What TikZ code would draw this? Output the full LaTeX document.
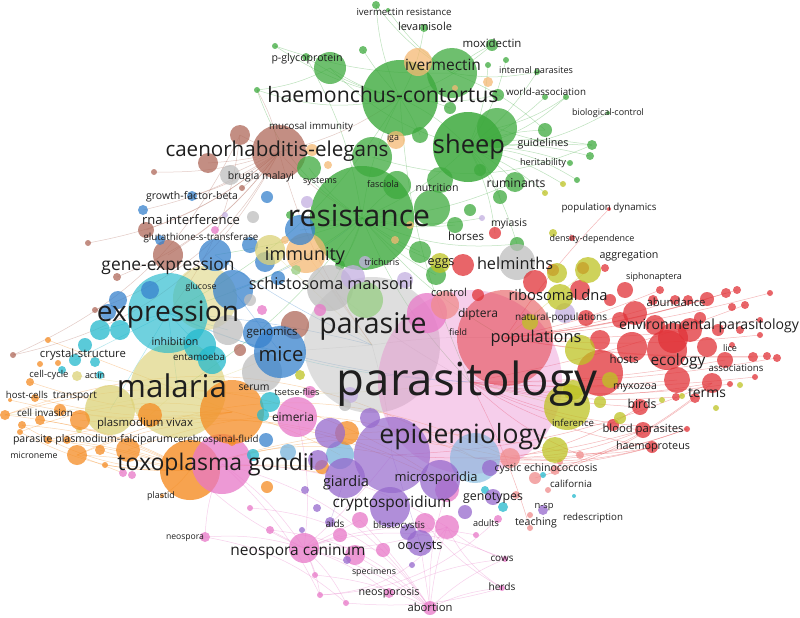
\documentclass[tikz,border=0pt]{standalone}
\usepackage{fontspec}
\setmainfont{Open Sans}
\usepackage{graphicx}
\definecolor{vg}{RGB}{62,170,62}
\definecolor{vlg}{RGB}{150,205,130}
\definecolor{vr}{RGB}{225,50,55}
\definecolor{vsal}{RGB}{240,140,140}
\definecolor{vb}{RGB}{55,130,205}
\definecolor{vlb}{RGB}{120,180,220}
\definecolor{vy}{RGB}{190,195,35}
\definecolor{vkh}{RGB}{220,210,120}
\definecolor{vp}{RGB}{150,105,205}
\definecolor{vlav}{RGB}{195,175,225}
\definecolor{vo}{RGB}{245,140,35}
\definecolor{vpe}{RGB}{245,185,115}
\definecolor{vbr}{RGB}{175,105,90}
\definecolor{vpk}{RGB}{232,120,200}
\definecolor{vgr}{RGB}{190,190,190}
\definecolor{vc}{RGB}{35,185,205}
\definecolor{txt}{RGB}{30,30,30}
\def\bigbubs{pas/372/345/68/vgr/0.5,pty/470/382/92/vpk/0.36,pop/505/338/48/vr/0.5,mal/178/390/48/vkh/0.65,mal2/205/298/32/vkh/0.55,exp/168/313/40/vc/0.65,res/362/218/52/vg/0.8,hae/400/98/38/vg/0.8,shp/468/147/35/vg/0.85,epi/392/455/38/vp/0.7,lb1/475/458/25/vlb/0.6,tox/190/470/30/vo/0.8,toxp/222/464/30/vpk/0.75,ora/232/412/32/vo/0.75,cae/279/152/27/vbr/0.75}
\def\bubs{g1/452/73/25/vg,g2/497/128/20/vg,g3/330/68/16/vg,g4/372/157/20/vg,g5/432/208/18/vg,g6/309/168/12/vg,g7/420/252/11/vg,g8/440/180/13/vg,g9/397/185/14/vg,g10/492/45/6/vg,g11/424/28/4/vg,g12/376/5/4/vg,g13/275/46/3/vg,g14/363/50/4/vg,g15/306/57/4/vg,g16/257/90/3/vg,g17/488/65/3/vg,g18/506/60/3/vg,g19/537/72/3/vg,g20/545/97/3/vg,g21/566/97/3/vg,g22/608/113/2/vg,g23/545/130/7/vg,g24/592/145/5/vg,g25/590/156/4/vg,g26/570/163/3/vg,g27/577/180/3/vg,g28/515/182/10/vg,g29/500/197/7/vg,g30/436/275/10/vg,g31/517/244/7/vg,g32/470/210/6/vg,g33/480/170/6/vg,g34/455/225/8/vg,g35/388/10/2/vg,g36/450/108/6/vg,g37/420/135/8/vg,g38/498/95/6/vg,g43/290/215/4/vg,g44/340/265/5/vg,
pe1/418/62/14/vpe,pe2/396/140/9/vpe,pe3/312/150/6/vpe,pe4/328/165/4/vpe,pe5/306/253/20/vpe,pe6/455/88/3/vpe,pe7/488/82/5/vpe,pe8/410/225/4/vpe,
br1/240/135/10/vbr,br2/208/163/10/vbr,br3/154/172/3/vbr,br4/242/188/3/vbr,br5/168/255/15/vbr,br6/146/230/8/vbr,br7/88/243/3/vbr,br8/95/310/3/vbr,br9/13/355/3/vbr,br10/117/277/4/vbr,br12/295/325/14/vbr,
gr1/230/175/10/vgr,gr2/330/288/23/vgr,gr3/517/262/18/vgr,gr4/262/372/20/vgr,gr5/228/330/15/vgr,gr6/253/217/6/vgr,
b1/300/230/15/vb,b2/192/196/5/vb,b3/215/255/16/vb,b4/233/290/20/vb,b5/265/262/10/vb,b6/250/245/8/vb,b7/280/352/26/vb,b8/258/333/15/vb,b9/150/290/9/vb,b10/118/300/9/vb,b11/108/312/8/vb,b12/143/210/5/vb,b13/160/240/5/vb,b14/267/197/6/vb,b20/266/440/7/vb,
c1/100/330/10/vc,c2/85/345/7/vc,c3/75/360/6/vc,c4/95/362/5/vc,c5/212/360/14/vc,c6/200/345/16/vc,c7/270/402/10/vc,c8/263/415/6/vc,c9/340/455/14/vlb,c10/62/370/4/vc,c11/100/375/4/vc,c12/120/330/10/vc,c15/485/490/4/vc,c16/503/507/5/vc,c17/574/496/2/vc,c18/543/475/3/vc,
k1/110/410/25/vkh,k2/270/250/15/vkh,k3/77/376/5/vkh,k7/79/430/3/vkh,
o1/150/415/12/vo,o2/80/420/10/vo,o3/60/410/6/vo,o4/40/420/5/vo,o5/22/425/4/vo,o6/5/415/5/vo,o7/20/432/3/vo,o8/48/440/4/vo,o9/67/440/4/vo,o10/100/450/5/vo,o11/128/450/12/vo,o12/77/455/10/vo,o13/322/467/7/vo,o14/267/487/6/vo,o15/347/433/12/vo,o16/30/382/4/vo,o17/48/340/3/vo,o18/35/398/4/vo,o21/58/363/3/vo,o22/40/364/3/vo,o23/10/400/2/vo,o24/105/465/3/vo,o25/162/496/2/vo,o28/232/442/4/vo,
p1/304/548/15/vpk,p2/297/417/20/vpk,p3/427/313/20/vpk,p4/340/535/7/vpk,p5/355/555/10/vpk,p6/383/550/7/vpk,p7/447/527/12/vpk,p8/425/523/10/vpk,p9/360/520/8/vpk,p10/447/490/12/vpk,p11/430/608/7/vpk,p12/389/593/5/vpk,p13/320/595/3/vpk,p14/346/603/3/vpk,p15/270/530/4/vpk,p16/205/537/5/vpk,p17/123/473/4/vpk,p18/132/475/4/vpk,p19/315/575/3/vpk,p20/498/519/4/vpk,p21/476/535/3/vpk,p22/505/559/3/vpk,p23/502/588/3/vpk,p24/250/508/3/vpk,
pu1/440/480/20/vp,pu2/345/478/20/vp,pu3/390/507/20/vp,pu4/318/460/10/vp,pu5/490/468/8/vp,pu6/465/512/7/vp,pu7/493/497/8/vp,pu8/543/510/5/vp,pu9/420/543/13/vp,pu10/408/532/8/vp,pu11/330/522/5/vp,pu12/317/508/4/vp,pu13/305/490/4/vp,pu14/412/565/3/vp,pu15/347/560/4/vp,pu16/330/433/15/vp,pu17/370/418/10/vp,pu18/302/530/3/vp,
la1/482/218/3/vlav,la2/307/202/6/vlav,la3/565/313/10/vlav,la5/353/277/12/vlav,lg1/365/300/18/vlg,
r1/463/265/11/vr,r2/495/233/6/vr,r3/535/282/12/vr,r4/583/268/6/vr,r5/605/268/4/vr,r6/553/270/6/vr,r7/572/238/3/vr,r8/609/209/2/vr,r9/625/290/8/vr,r10/635/313/12/vr,r11/660/290/4/vr,r12/653/300/5/vr,r13/675/300/5/vr,r14/688/300/5/vr,r15/707/299/7/vr,r16/726/293/5/vr,r17/737/290/4/vr,r18/732/307/4/vr,r19/745/305/4/vr,r20/770/293/3/vr,r21/732/345/3/vr,r22/725/360/8/vr,r23/707/347/10/vr,r24/690/330/12/vr,r25/667/350/20/vr,r26/632/347/15/vr,r27/677/380/13/vr,r28/600/373/23/vr,r29/673/338/15/vr,r30/753/357/5/vr,r31/767/356/4/vr,r32/777/358/4/vr,r33/755/377/3/vr,r34/730/384/3/vr,r35/640/407/8/vr,r36/643/430/8/vr,r37/652/447/6/vr,r38/687/429/3/vr,r39/613/425/6/vr,r40/712/383/10/vr,r41/695/398/5/vr,r42/676/397/4/vr,r44/620/320/8/vr,r45/655/325/10/vr,r46/700/318/6/vr,r47/718/330/6/vr,r48/740/330/4/vr,r49/760/320/3/vr,r50/580/290/10/vr,r51/586/318/8/vr,r52/600/340/10/vr,r53/478/295/6/vr,r55/610/300/6/vr,r56/760/335/3/vr,
s1/510/458/10/vsal,s2/535/478/6/vsal,s3/555/470/5/vsal,s4/516/495/4/vsal,s5/548/490/3/vsal,s6/530/515/3/vsal,s7/530/528/3/vsal,s8/445/305/14/vsal,s13/580/455/4/vsal,s14/560/462/3/vsal,
y1/557/273/10/vy,y2/588/270/13/vy,y3/560/297/13/vy,y4/580/350/15/vy,y5/567/407/23/vy,y6/555/450/13/vy,y7/573/390/10/vy,y8/553/233/4/vy,y9/563/184/3/vy,y10/545/193/3/vy,y11/440/263/10/vy,y12/662/400/3/vy,y13/682/396/3/vy,y14/716/408/3/vy,y15/620/418/6/vy,y16/610/380/8/vy,y18/600/402/6/vy,y21/530/322/8/vy,y24/740/385/3/vy,
t2/250/300/6/vgr,t3/262/310/5/vpk,t4/240/350/6/vbr,t5/350/395/8/vlav,t6/310/392/6/vpk,t7/288/452/8/vlb,t8/253/455/6/vc,t9/345/405/6/vgr,t10/300/375/5/vy,t11/215/230/4/vpk,t12/225/215/3/vlav,t13/285/240/4/vpe,t14/320/310/6/vpk,t15/405/280/8/vlav,t16/395/240/4/vpe,t17/365/262/6/vlav,t18/278/278/7/vb,t19/296/270/5/vlg}
\def\edges{hae/g12/vg/10,hae/g11/vg/-10,hae/g3/vg/10,hae/g14/vg/5,hae/g10/vg/-10,hae/g16/vg/15,hae/g13/vg/10,hae/shp/vg/10,hae/res/vg/-10,shp/g19/vg/-10,shp/g20/vg/-10,shp/g21/vg/-15,shp/g22/vg/-15,shp/g23/vg/10,shp/g24/vg/10,shp/g26/vg/10,shp/g27/vg/15,shp/res/vg/10,shp/g28/vg/10,res/g28/vg/-10,g1/g12/vg/10,g1/g10/vg/10,res/g30/vg/-10,res/g31/vg/-15,res/g43/vg/10,g3/shp/vg/-15,g13/g1/vg/-10,g15/res/vg/10,hae/g38/vg/-10,res/g34/vg/-10,g4/g24/vg/-20,res/g16/vg/20,shp/r2/vg/10,shp/y9/vg/10,
shp/g17/vg/-10,shp/g18/vg/-10,shp/g25/vg/10,g1/g35/vg/10,hae/g15/vg/10,res/g6/vg/10,res/g9/vg/5,shp/g33/vg/5,res/g7/vg/-5,res/g44/vg/10,hae/g37/vg/5,g1/g19/vg/-10,g1/g23/vg/10,res/y11/vg/-10,shp/g31/vg/10,res/la1/vg/-10,g3/g16/vg/10,hae/g36/vg/10,res/b1/vg/5,res/gr2/vg/5,shp/g29/vg/15,shp/y10/vg/10,g2/g24/vg/-10,g2/g21/vg/-10,
cae/br3/vbr/10,cae/br7/vbr/15,cae/br8/vbr/20,cae/br9/vbr/25,cae/br2/vbr/5,cae/br1/vbr/5,cae/res/vbr/-10,cae/br5/vbr/10,cae/pas/vbr/-10,cae/br10/vbr/15,br1/exp/vbr/15,cae/hae/vbr/-10,cae/g16/vbr/-10,cae/b12/vbr/10,cae/br6/vbr/10,cae/br4/vbr/5,br1/br9/vbr/20,cae/gr1/vbr/0,cae/b2/vbr/10,
tox/o6/vo/-10,tox/o5/vo/-10,tox/o4/vo/-10,tox/o8/vo/-5,tox/o9/vo/-5,tox/o12/vo/-5,tox/o11/vo/-5,tox/o25/vo/10,tox/epi/vo/15,o6/lb1/vo/25,o12/s1/vo/25,o8/pu1/vo/20,tox/s1/vo/15,tox/y6/vo/15,ora/o2/vo/10,ora/o23/vo/10,o12/p17/vo/0,
o5/tox/vo/-15,o7/tox/vo/-15,o10/tox/vo/-5,o24/tox/vo/-5,o3/ora/vo/-10,o16/ora/vo/-10,o18/ora/vo/-10,o6/pu1/vo/25,o7/c9/vo/25,o12/epi/vo/22,o11/lb1/vo/22,tox/o13/vo/5,tox/pu2/vo/10,o17/mal/vo/0,
p1/p11/vpk/10,p1/p12/vpk/10,p1/p13/vpk/10,p1/p14/vpk/10,p1/p19/vpk/5,p1/p16/vpk/-10,p1/p15/vpk/0,p1/p4/vpk/0,p1/p7/vpk/-10,p1/toxp/vpk/-10,p11/p22/vpk/10,p11/p23/vpk/10,p11/p7/vpk/5,p11/p5/vpk/-5,p1/p22/vpk/20,p16/toxp/vpk/10,p22/p7/vpk/10,p23/p8/vpk/10,p1/p21/vpk/15,p13/p20/vpk/-20,toxp/p11/vpk/20,toxp/p7/vpk/15,p1/epi/vpk/-5,p24/p11/vpk/25,tox/p1/vpk/-10,p11/pu9/vpk/0,
p1/p9/vpk/0,p1/p6/vpk/5,p12/p22/vpk/10,p14/p23/vpk/-10,p11/p9/vpk/-5,p11/p10/vpk/10,p19/p11/vpk/10,p13/p7/vpk/-25,p15/p11/vpk/20,toxp/p13/vpk/10,p16/p14/vpk/15,p2/p1/vpk/10,p7/p23/vpk/-15,
pty/r37/vr/-10,pty/r36/vr/-10,pty/r38/vr/-10,pty/r40/vr/-10,pty/r32/vr/-5,pty/r19/vr/-5,pop/r20/vr/-5,pop/r30/vr/-5,s1/r37/vr/-10,s1/r36/vr/-10,s1/r38/vr/-10,pty/r35/vr/-5,pop/r8/vr/5,pop/r17/vr/-5,s3/r40/vr/-10,s2/r41/vr/-10,pop/r31/vr/-5,epi/r36/vr/-10,lb1/r38/vr/-12,pop/r16/vr/-5,
pty/r33/vr/-5,pty/r22/vr/-5,pty/r27/vr/-5,pop/r15/vr/-5,pop/r13/vr/-5,pop/r11/vr/-5,pty/r42/vr/-8,lb1/r37/vr/-12,s1/r35/vr/-10,epi/r40/vr/-10,y6/r37/vr/-10,pty/r34/vr/-8,pop/r49/vr/-5,pop/r56/vr/-5,pty/s13/vr/-10,pty/s7/vr/5,
exp/pas/vb/5,mal/pty/vkh/-5,exp/pty/vc/-10,b7/pty/vb/-5,res/pty/vg/-10,pas/pop/vgr/5,mal/ora/vkh/0,exp/mal/vc/0,res/pop/vg/-10,hae/pty/vg/-10,b4/res/vb/-10,mal/o6/vkh/5,exp/c1/vc/0,exp/c3/vc/0,mal/k3/vkh/0,epi/pu9/vp/0,pu2/pu11/vp/0,pty/y5/vy/0,pop/y2/vy/0,
exp/b7/vb/-5,exp/c5/vc/0,b4/b7/vb/0,exp/gr5/vc/0,mal/b7/vkh/-5,mal/o1/vkh/0,pas/b7/vgr/0,pas/epi/vgr/5,pas/gr2/vgr/0,b3/pas/vb/-5,gr2/pty/vgr/-5,res/exp/vg/10,res/mal/vg/10,res/b3/vg/5,hae/exp/vg/15,pe5/pas/vpe/0,k2/pas/vkh/0,exp/k1/vc/0}
\def\labels{l01/404/13/95/ivermectin resistance,l02/425/28/54/levamisole,l03/307/59/71/p-glycoprotein,l04/492/45/59/moxidectin,l05/443/67/76/ivermectin,l06/536/71/74/internal parasites,l07/546/93/80/world-association,l08/383/97/231/haemonchus-contortus,l09/608/113/72/biological-control,l10/311/127/84/mucosal immunity,l11/393/138/12/iga,l12/469/147/72/sheep,l13/543/144/51/guidelines,l14/543/163/46/heritability,l15/277/152/223/caenorhabditis-elegans,l16/261/177/66/brugia malayi,l17/320/181/34/systems,l18/383/185/32/fasciola,l19/437/189/43/nutrition,l20/516/185/59/ruminants,l21/192/197/92/growth-factor-beta,l22/359/219/142/resistance,l23/609/208/95/population dynamics,l24/191/221/98/rna interference,l25/509/224/36/myiasis,l26/201/238/115/glutathione-s-transferase,l27/466/238/36/horses,l28/592/239/85/density-dependence,l29/305/256/80/immunity,l30/382/263/35/trichuris,l31/441/262/27/eggs,l32/515/266/76/helminths,l33/629/256/59/aggregation,l34/654/277/56/siphonaptera,l35/168/266/133/gene-expression,l36/331/286/164/schistosoma mansoni,l37/201/287/31/glucose,l38/449/294/36/control,l39/558/297/99/ribosomal dna,l40/676/304/59/abundance,l41/168/315/142/expression,l42/478/315/40/diptera,l43/561/318/92/natural-populations,l44/709/326/180/environmental parasitology,l45/373/327/107/parasite,l46/458/333/18/field,l47/272/333/51/genomics,l48/536/339/91/populations,l49/175/343/47/inhibition,l50/730/349/14/lice,l51/83/355/86/crystal-structure,l52/199/358/52/entamoeba,l53/281/357/45/mice,l54/624/361/29/hosts,l55/678/362/55/ecology,l56/736/369/55/associations,l57/49/375/39/cell-cycle,l58/95/376/20/actin,l59/467/385/260/parasitology,l60/172/390/110/malaria,l61/635/387/44/myxozoa,l62/254/388/31/serum,l63/297/393/45/tsetse-flies,l64/707/394/38/terms,l65/27/396/42/host-cells,l66/75/396/44/transport,l67/642/406/29/birds,l68/45/414/56/cell invasion,l69/293/419/42/eimeria,l70/573/424/42/inference,l71/145/424/96/plasmodium vivax,l72/643/430/81/blood parasites,l73/463/437/167/epidemiology,l74/93/440/160/parasite plasmodium-falciparum,l75/216/440/85/cerebrospinal-fluid,l76/653/447/74/haemoproteus,l77/34/456/47/microneme,l78/216/465/197/toxoplasma gondii,l79/546/469/103/cystic echinococcosis,l80/436/478/83/microsporidia,l81/346/483/46/giardia,l82/571/485/42/california,l83/161/496/28/plastid,l84/493/498/60/genotypes,l85/392/504/119/cryptosporidium,l86/544/506/19/n-sp,l87/593/518/60/redescription,l88/536/523/42/teaching,l89/486/524/26/adults,l90/335/525/19/aids,l91/399/526/52/blastocystis,l92/185/537/38/neospora,l93/420/546/45/oocysts,l94/298/552/135/neospora caninum,l95/502/559/23/cows,l96/374/572/44/specimens,l97/502/588/27/herds,l98/389/593/61/neosporosis,l99/430/609/45/abortion}
\begin{document}
\begin{tikzpicture}[x=1pt,y=-1pt,
  edge/.style={draw=#1,line width=0.5pt,draw opacity=0.35},
  lbl/.style={inner sep=0pt,text=txt}]
\fill[white] (0,0) rectangle (800,618);
\path[use as bounding box] (0,0) rectangle (800,618);
\foreach \n/\x/\y/\r/\c/\o in \bigbubs {\coordinate (\n) at (\x,\y);}
\foreach \n/\x/\y/\r/\c in \bubs {\coordinate (\n) at (\x,\y);}
\foreach \a/\b/\c/\k in \edges {\draw[edge=\c] (\a) to[bend left=\k] (\b);}
\foreach \n/\x/\y/\r/\c/\o in \bigbubs {\fill[fill=\c,fill opacity=\o] (\n) circle (\r);}
\foreach \n/\x/\y/\r/\c in \bubs {\fill[fill=\c,fill opacity=0.75] (\n) circle (\r);}
\foreach \n/\x/\y/\w/\t in \labels {\node[lbl] (\n) at (\x,\y) {\resizebox{\w pt}{!}{\strut\t}};}
\end{tikzpicture}
\end{document}
